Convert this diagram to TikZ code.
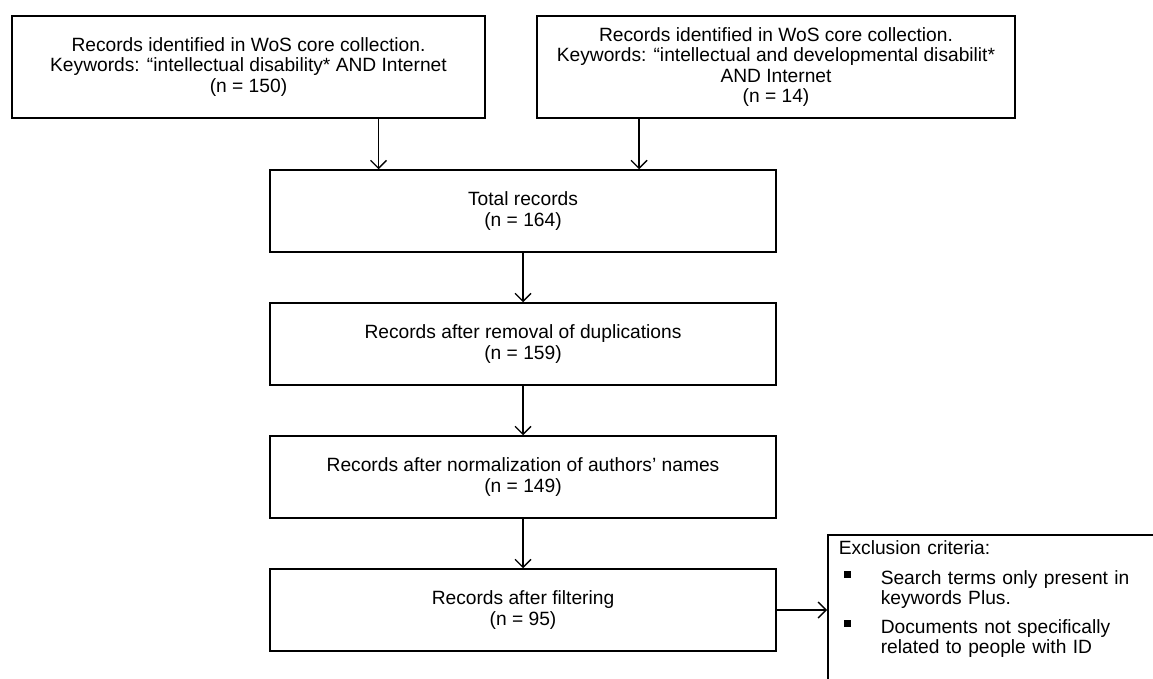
\documentclass[tikz,border=0pt]{standalone}
\usepackage{fontspec}
\setmainfont{Liberation Sans}
\usetikzlibrary{arrows.meta}

\newcommand{\sqbul}{\makebox[42pt][l]{\hspace*{5pt}\rule[6.5pt]{7pt}{7pt}}}

\begin{document}
\begin{tikzpicture}[x=1pt, y=-1pt,
  font=\fontsize{19.2pt}{20.5pt}\selectfont,
  box/.style = {shape=rectangle, draw, align=center, line width=1.5pt,
    minimum width=506pt, minimum height=82pt},
  exbox/.style = {shape=rectangle, draw, align=left, line width=1.5pt,
    anchor=north west, text width=330pt, inner xsep=11pt, inner ysep=6pt},
  arr/.style = {-{Straight Barb[length=8pt,width=16pt]}, line width=1.4pt}]
  \useasboundingbox (0,0) rectangle (1153,679);
  \clip (0,0) rectangle (1153,679);

  \node[box, minimum width=473pt, minimum height=102pt] (wos1) at (248.5,67)
    {Records identified in WoS core collection.\\
     Keywords: “intellectual disability* AND Internet\\ (n = 150)};
  \node[box, minimum width=478pt, minimum height=102pt] (wos2) at (776,67)
    {Records identified in WoS core collection.\\
     Keywords: “intellectual and developmental disabilit*\\
     AND Internet\\ (n = 14)};
  \node[box] (tot) at (523,211) {Total records\\ (n = 164)};
  \node[box] (dup) at (523,344) {Records after removal of duplications\\ (n = 159)};
  \node[box] (norm) at (523,477) {Records after normalization of authors’ names\\ (n = 149)};
  \node[box] (filt) at (523,610) {Records after filtering\\ (n = 95)};
  \node[exbox] (excl) at (827,534) {Exclusion criteria:\\[9pt]
    \sqbul Search terms only present in\\
    \hspace*{42pt}keywords Plus.\\[8pt]
    \sqbul Documents not specifically\\
    \hspace*{42pt}related to people with ID\rule[-80pt]{0pt}{0pt}};

  \draw[arr] ([xshift=130pt]wos1.south) -- ([xshift=130pt]wos1.south |- tot.north);
  \draw[arr] ([xshift=-137pt]wos2.south) -- ([xshift=-137pt]wos2.south |- tot.north);
  \draw[arr] (tot) -- (dup);
  \draw[arr] (dup) -- (norm);
  \draw[arr] (norm) -- (filt);
  \draw[arr] (filt.east) -- (filt.east -| excl.west);

\end{tikzpicture}
\end{document}
